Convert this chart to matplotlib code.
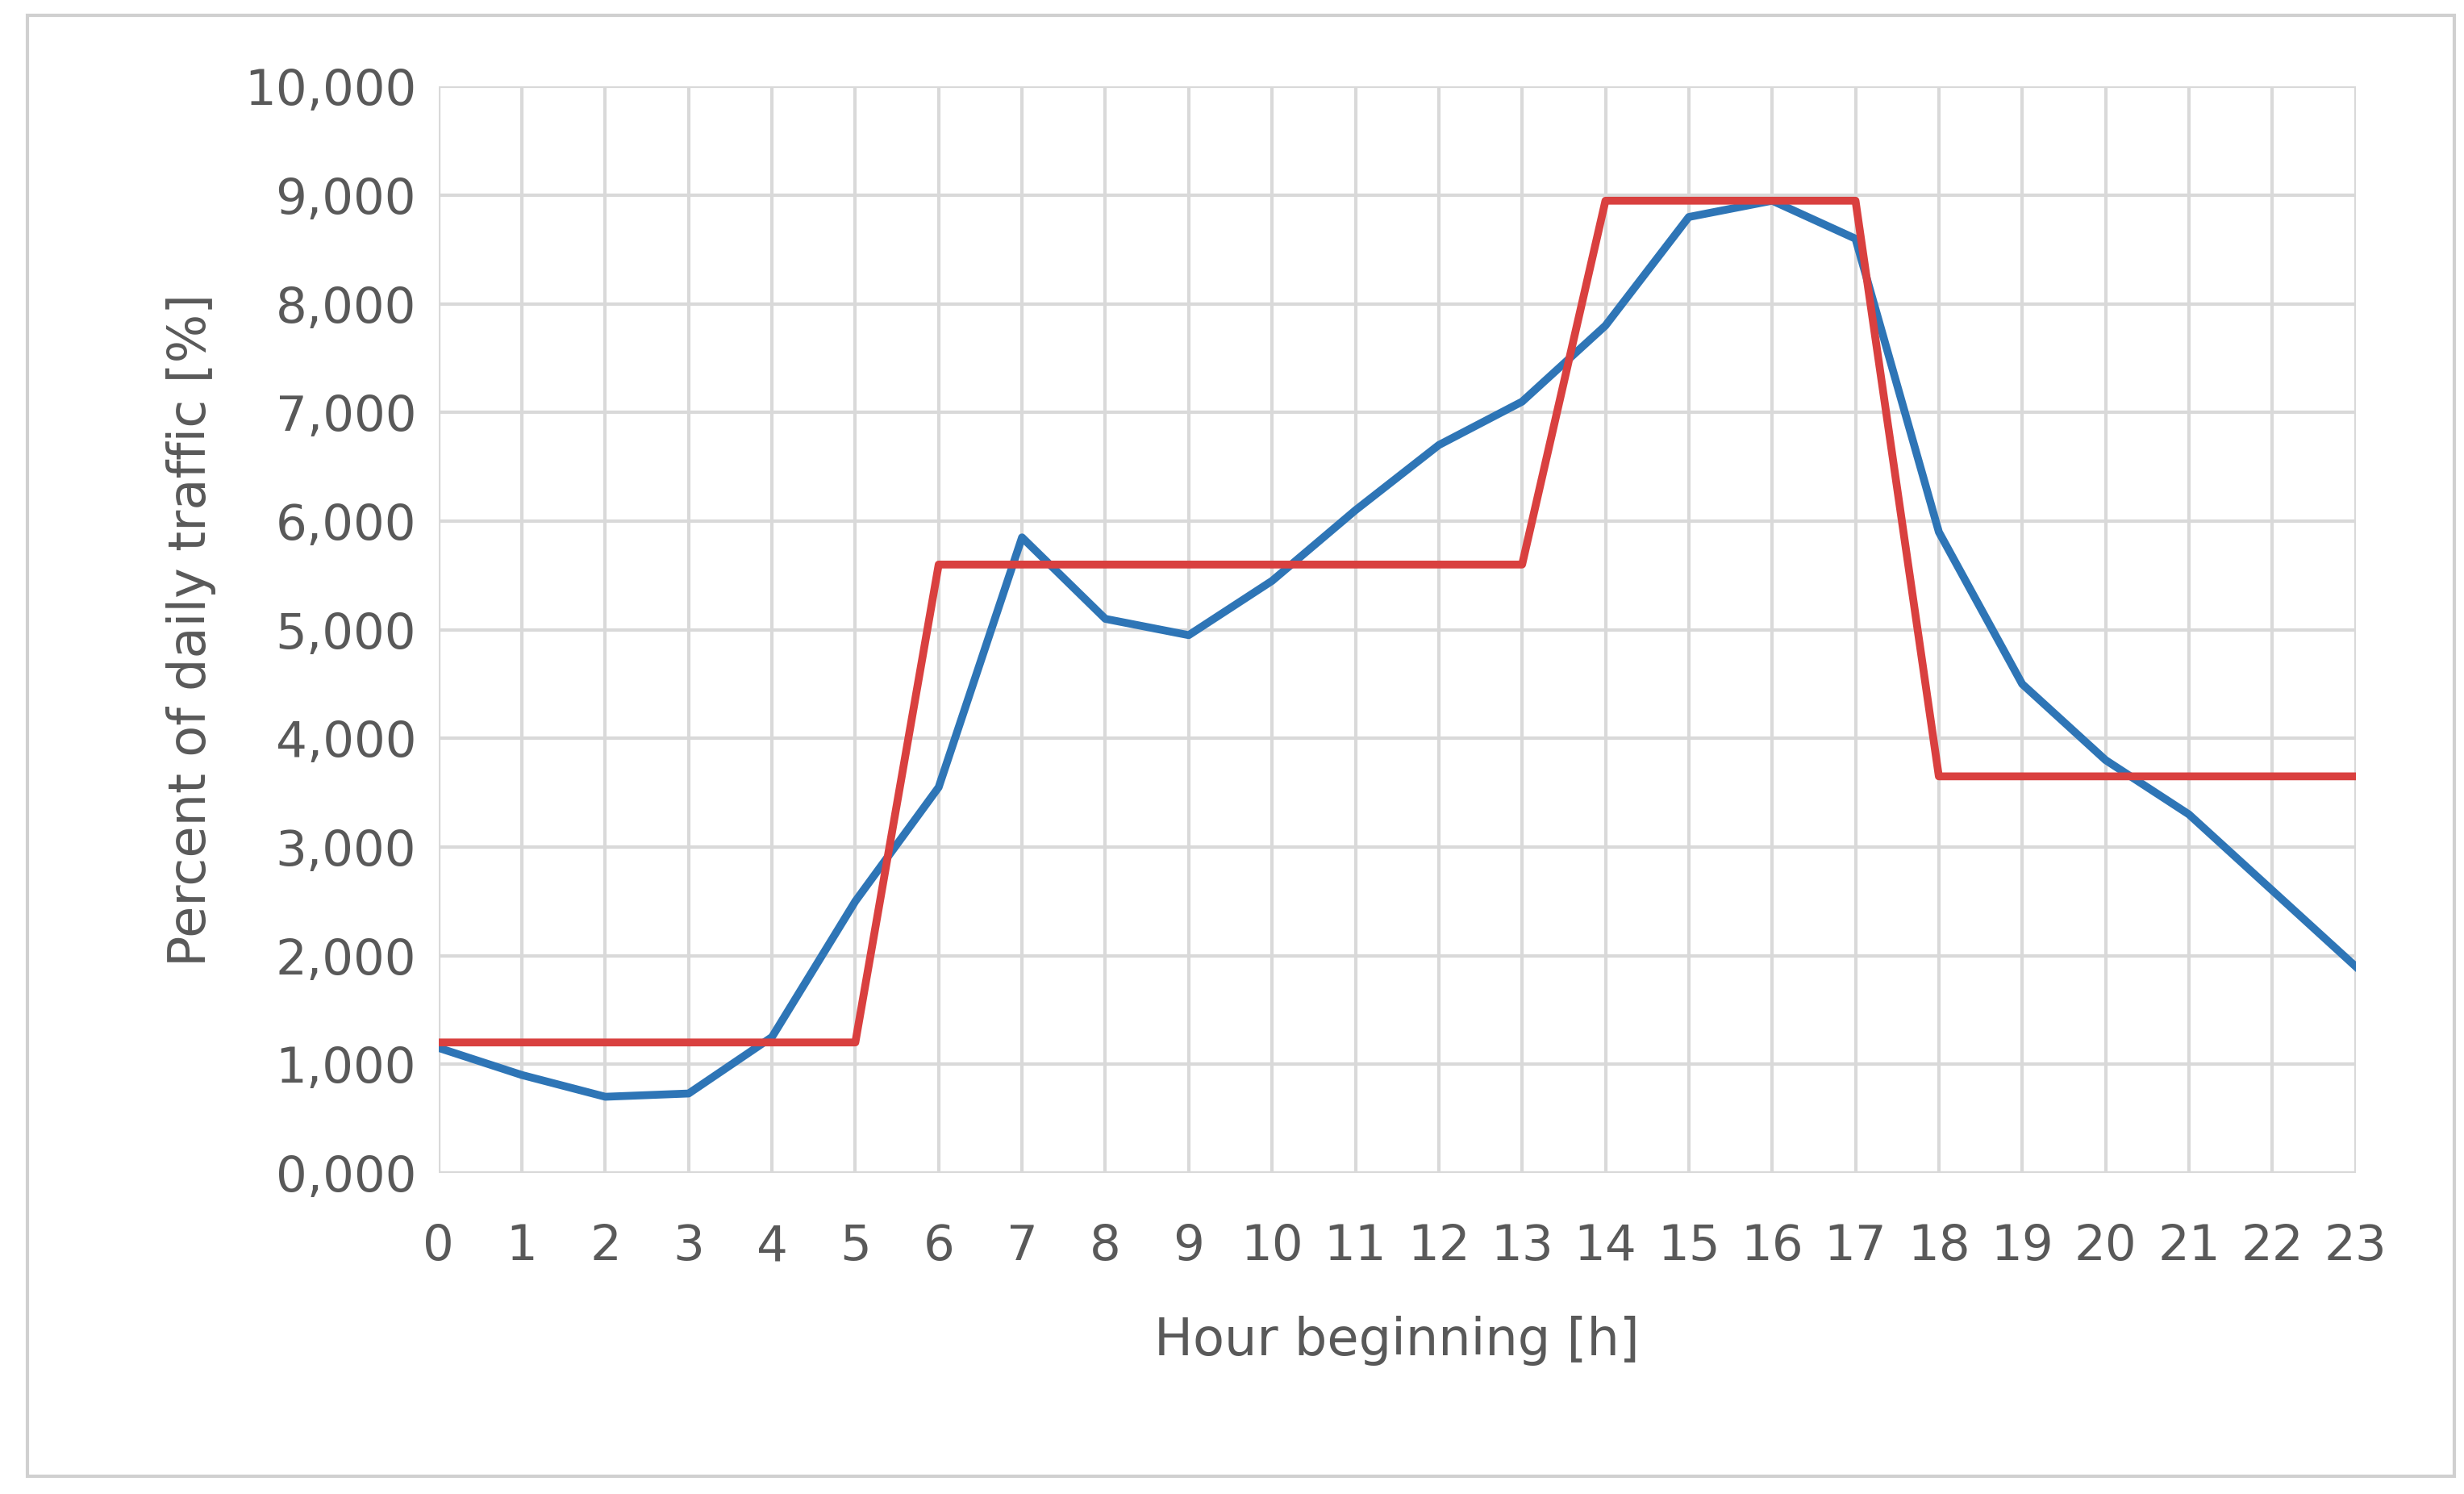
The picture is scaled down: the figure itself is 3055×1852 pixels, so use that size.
import matplotlib.pyplot as plt
from matplotlib.patches import Rectangle

hours = list(range(24))
measured = [1.15, 0.90, 0.70, 0.73, 1.25, 2.50, 3.55, 5.85, 5.10, 4.95, 5.45, 6.10,
            6.70, 7.10, 7.80, 8.80, 8.95, 8.60, 5.90, 4.50, 3.80, 3.30, 2.60, 1.90]
model = [1.2] * 6 + [5.6] * 8 + [8.95] * 4 + [3.65] * 6

fig = plt.figure(figsize=(30.55, 18.52), dpi=100)
ax = fig.add_axes([0.178, 0.215, 0.778, 0.727])
fig.patches.append(Rectangle((0.011, 0.012), 0.985, 0.978, transform=fig.transFigure,
                             fill=False, edgecolor='#d0d0d0', linewidth=3))

ax.plot(hours, measured, color='#2e75b6', linewidth=7, zorder=3)
ax.plot(hours, model, color='#d9403f', linewidth=7, zorder=4)

ax.set_xlim(0, 23)
ax.set_ylim(0, 10)
ax.set_xticks(hours)
ax.set_yticks(range(11))
ax.set_yticklabels([f"{v:.3f}".replace('.', ',') for v in range(11)])
ax.grid(True, color='#d9d9d9', linewidth=3)
ax.tick_params(length=0, labelsize=44, labelcolor='#595959')
ax.tick_params(axis='x', pad=45)
ax.tick_params(axis='y', pad=20)
for s in ax.spines.values():
    s.set_visible(False)
ax.axhline(0, color='#d9d9d9', linewidth=3)
ax.axvline(0, color='#d9d9d9', linewidth=3)

ax.set_xlabel("Hour beginning [h]", fontsize=46, color='#595959', labelpad=40)
ax.set_ylabel("Percent of daily traffic [%]", fontsize=46, color='#595959', labelpad=25)

fig.savefig("out.png")
